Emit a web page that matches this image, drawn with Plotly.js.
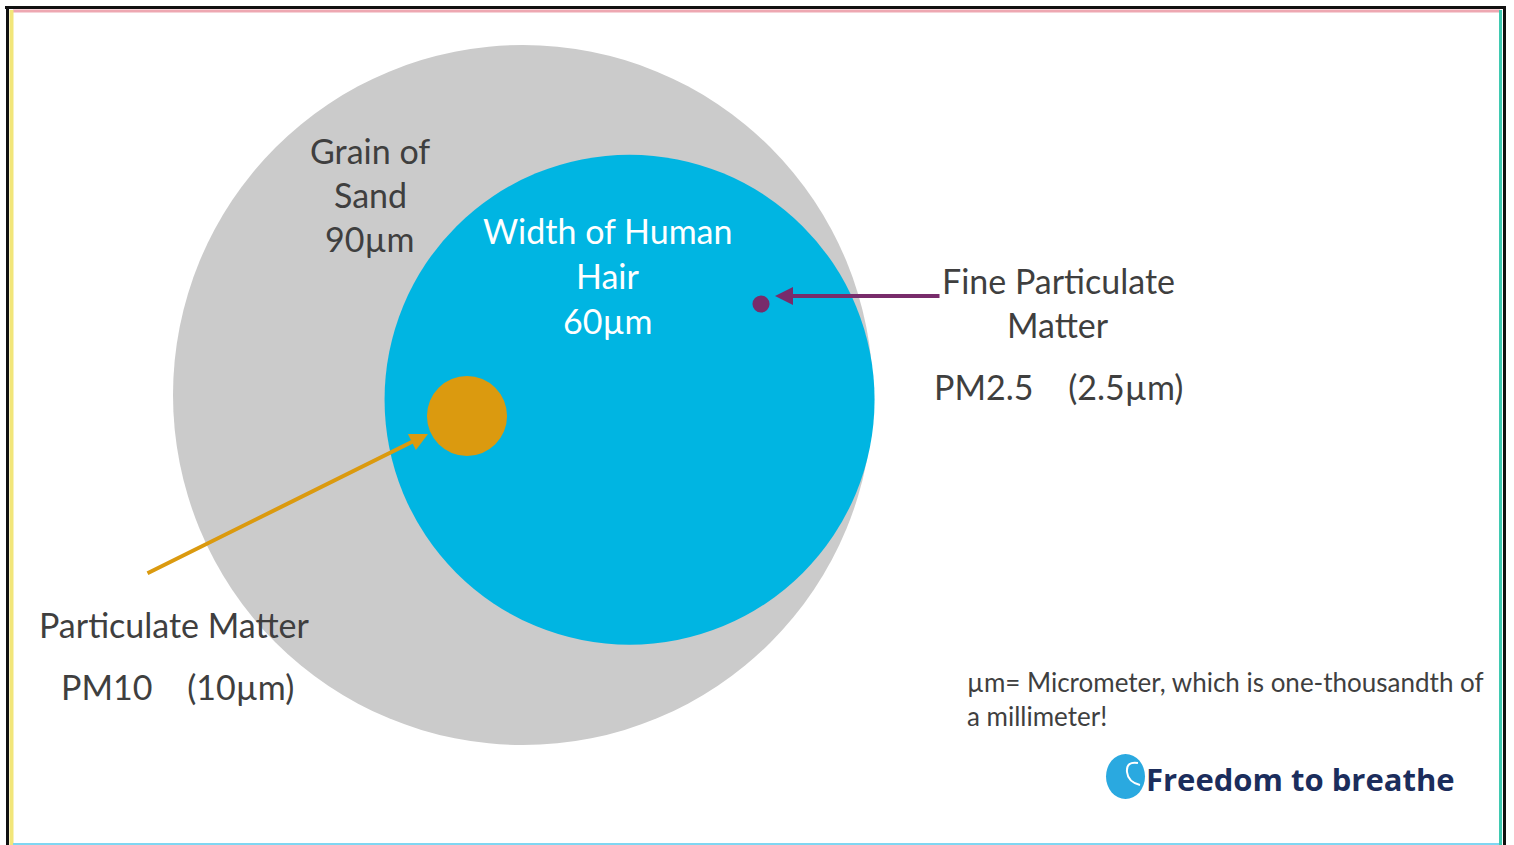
<!DOCTYPE html>
<html>
<head>
<meta charset="utf-8">
<script src="https://cdn.plot.ly/plotly-3.0.1.min.js"></script>
<style>
html,body{margin:0;padding:0;background:#fff;}
#chart{width:1514px;height:845px;}
</style>
</head>
<body>
<div id="chart"></div>
<script>
// ---- data (micrometres) ----
const particles = ['Grain of Sand', 'Width of Human Hair', 'PM10', 'PM2.5'];
const statedSizeUm = [90, 60, 10, 2.5];          // sizes named in the labels
const drawnDiameterUm = [90, 63, 10.3, 2.2];      // diameters as drawn in the picture
const centerXUm = [0, 13.7, -7.2, 30.6];          // circle centres, µm from sand-grain centre
const centerYUm = [0, -0.6, -2.7, 11.7];
const fillColors = ['#cbcbcb', '#00b5e2', '#db9a0f', '#782c6b'];

const sandLines = ['Grain of', 'Sand', '90µm'];
const hairLines = ['Width of Human', 'Hair', '60µm'];
const fineLines = ['Fine Particulate', 'Matter'];
const fineSize = 'PM2.5    (2.5µm)';
const pm10Lines = ['Particulate Matter', 'PM10    (10µm)'];
const noteLines = ['µm= Micrometer, which is one-thousandth of', 'a millimeter!'];
const brandText = 'Freedom to breathe';

// ---- layout helpers: map page pixels to µm axes ----
const W = 1514, H = 845;
const S = 350 / 45;            // pixels per µm
const OX = 523, OY = 395;      // page pixel of the sand-grain centre
const X = px => (px - OX) / S;
const Y = py => (OY - py) / S;

const shapes = [];
for (let i = 0; i < particles.length; i++) {
  const r = drawnDiameterUm[i] / 2;
  shapes.push({
    type: 'circle', xref: 'x', yref: 'y',
    x0: centerXUm[i] - r, x1: centerXUm[i] + r,
    y0: centerYUm[i] - r, y1: centerYUm[i] + r,
    fillcolor: fillColors[i], line: {width: 0}, layer: 'above'
  });
}
// logo icon
shapes.push({type: 'circle', xref: 'x', yref: 'y',
  x0: X(1106), x1: X(1145), y0: Y(799), y1: Y(754),
  fillcolor: '#2aa9e0', line: {width: 0}});
shapes.push({type: 'path', xref: 'x', yref: 'y',
  path: `M ${X(1138)},${Y(763)} Q ${X(1126)},${Y(761)} ${X(1127)},${Y(772)} Q ${X(1128)},${Y(782)} ${X(1140)},${Y(785)}`,
  line: {color: '#ffffff', width: 2}});

// frame
const paperLine = (x0, y0, x1, y1, color, w) => ({
  type: 'line', xref: 'paper', yref: 'paper',
  x0: x0 / W, x1: x1 / W, y0: 1 - y0 / H, y1: 1 - y1 / H,
  line: {color: color, width: w}
});
shapes.push(paperLine(13, 11, 1500, 11, '#eea8b2', 3));
shapes.push(paperLine(11.5, 10, 11.5, 845, '#f2e67a', 4));
shapes.push(paperLine(1500.5, 10, 1500.5, 845, '#3fc9b0', 3));
shapes.push(paperLine(13, 844, 1499, 844, '#7fd6f2', 2));
shapes.push(paperLine(5, 7.5, 1506, 7.5, '#111111', 3));
shapes.push(paperLine(7.5, 6, 7.5, 845, '#111111', 3));
shapes.push(paperLine(1504.5, 6, 1504.5, 845, '#111111', 3));

const FONT = 'Lato, "Open Sans", sans-serif';
const grey = '#3f3f3f';
const ann = [];
const txt = (t, px, py, size, color, anchor, fam) => ann.push({
  text: t, x: X(px), y: Y(py), xref: 'x', yref: 'y', showarrow: false,
  xanchor: anchor || 'center', yanchor: 'middle',
  font: {family: fam || FONT, size: size, color: color}
});

sandLines.forEach((t, i) => txt(t, 370, 150 + i * 44, 34, grey));
hairLines.forEach((t, i) => txt(t, 608, 230 + i * 45, 34, '#ffffff'));
fineLines.forEach((t, i) => txt(t, 1058, 280 + i * 44, 34, grey));
txt(fineSize, 932, 386, 34, grey, 'left');
txt(pm10Lines[0], 37, 624, 34, grey, 'left');
txt(pm10Lines[1], 59, 686, 34, grey, 'left');
txt(noteLines[0], 965, 682, 26, grey, 'left');
txt(noteLines[1], 965, 716, 26, grey, 'left');
txt('<b>' + brandText + '</b>', 1144, 779, 31, '#1b2d5c', 'left', '"Open Sans", Lato, sans-serif');

// arrows
ann.push({x: X(775), y: Y(296), ax: X(941), ay: Y(296), xref: 'x', yref: 'y',
  axref: 'x', ayref: 'y', text: '', showarrow: true, arrowhead: 2, arrowsize: 0.9,
  arrowwidth: 4, arrowcolor: fillColors[3]});
ann.push({x: X(428), y: Y(434), ax: X(146), ay: Y(574), xref: 'x', yref: 'y',
  axref: 'x', ayref: 'y', text: '', showarrow: true, arrowhead: 2, arrowsize: 0.9,
  arrowwidth: 4, arrowcolor: fillColors[2]});

const trace = {
  type: 'scatter', mode: 'markers',
  x: centerXUm, y: centerYUm,
  text: particles.map((p, i) => p + ': ' + statedSizeUm[i] + 'µm'),
  hoverinfo: 'text',
  marker: {size: 1, opacity: 0},
  showlegend: false
};

const layout = {
  width: W, height: H,
  margin: {l: 0, r: 0, t: 0, b: 0, pad: 0},
  paper_bgcolor: '#ffffff', plot_bgcolor: '#ffffff',
  xaxis: {range: [X(0), X(W)], visible: false, fixedrange: true},
  yaxis: {range: [Y(H), Y(0)], visible: false, fixedrange: true},
  shapes: shapes,
  annotations: ann,
  showlegend: false
};

Plotly.newPlot('chart', [trace], layout, {displayModeBar: false, staticPlot: true});
</script>
</body>
</html>
